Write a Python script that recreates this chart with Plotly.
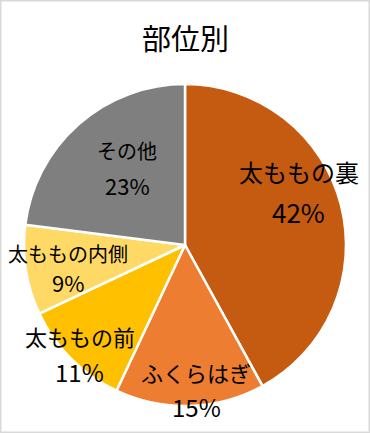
import math
import plotly.graph_objects as go

# Data
categories = ["太ももの裏", "ふくらはぎ", "太ももの前", "太ももの内側", "その他"]
values = [42, 15, 11, 9, 23]
title_text = "部位別"

# Styles
colors = ["#C55A11", "#ED7D31", "#FFC000", "#FFD966", "#7F7F7F"]
label_sizes = [24, 22, 22, 20, 20]
label_rfrac = [0.78, 0.90, 0.94, 0.74, 0.60]
label_angoff = [-10.6, -2.7, -1.0, -2.0, 4.6]
line_gap = [40, 34, 35, 29, 35]

W, H = 370, 433
CX, CY, R = 185, 245, 161
FONT = "Noto Sans CJK JP"

fig = go.Figure(go.Pie(
    labels=categories,
    values=values,
    sort=False,
    direction="clockwise",
    rotation=0,
    marker=dict(colors=colors, line=dict(color="white", width=2.5)),
    textinfo="none",
    hoverinfo="label+percent",
    showlegend=False,
    domain=dict(x=[(CX - R) / W, (CX + R) / W], y=[1 - (CY + R) / H, 1 - (CY - R) / H]),
))

annotations = []
total = sum(values)
cum = 0
for i, (cat, v) in enumerate(zip(categories, values)):
    mid = (cum + v / 2) / total * 360 + label_angoff[i]
    cum += v
    a = math.radians(mid)
    px = CX + label_rfrac[i] * R * math.sin(a)
    py = CY - label_rfrac[i] * R * math.cos(a)
    pct = f"{round(v / total * 100)}%"
    for txt, dy, sz in ((cat, -line_gap[i] / 2, label_sizes[i]), (pct, line_gap[i] / 2, label_sizes[i] + 2)):
        annotations.append(dict(
            x=px / W, y=1 - (py + dy) / H, xref="paper", yref="paper",
            text=txt, showarrow=False, xanchor="center", yanchor="middle",
            font=dict(family=FONT, size=sz, color="#000000"),
        ))

annotations.append(dict(
    x=0.5, y=1 - 37 / H, xref="paper", yref="paper", text=title_text,
    showarrow=False, xanchor="center", yanchor="middle",
    font=dict(family=FONT, size=29, color="#000000"),
))

fig.update_layout(
    width=W, height=H,
    margin=dict(l=0, r=0, t=0, b=0),
    paper_bgcolor="white",
    plot_bgcolor="white",
    annotations=annotations,
    shapes=[dict(type="rect", xref="paper", yref="paper", x0=0.002, y0=0.002, x1=0.998, y1=0.998,
                 line=dict(color="#D9D9D9", width=1.5))],
)

fig.write_html("out.html", config={"displayModeBar": False})

with open("out.html", "r", encoding="utf-8") as f:
    html = f.read()
html = html.replace("<head>", "<head><style>html,body{margin:0;padding:0;overflow:hidden;}</style>", 1)
with open("out.html", "w", encoding="utf-8") as f:
    f.write(html)
